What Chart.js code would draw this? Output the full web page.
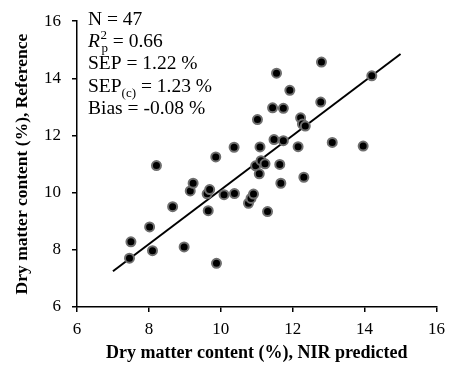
<!DOCTYPE html>
<html>
<head>
<meta charset="utf-8">
<script src="https://cdn.jsdelivr.net/npm/chart.js@4.4.1/dist/chart.umd.min.js"></script>
<style>
  html, body { margin: 0; padding: 0; background: #fff; }
  #wrap { width: 452px; height: 374px; }
</style>
</head>
<body>
<div id="wrap"><canvas id="c" width="452" height="374"></canvas></div>
<script>
// NIR predicted (x) and reference (y) dry matter content, %
const xPred = [7.46, 7.50, 8.02, 8.10, 8.21, 8.66, 8.98, 9.15, 9.23, 9.62,
               9.69, 9.65, 9.86, 9.88, 10.09, 10.38, 10.37, 10.77, 10.84, 10.91,
               10.97, 11.12, 11.23, 11.07, 11.09, 11.02, 11.30, 11.44, 11.48, 11.55,
               11.64, 11.67, 11.74, 11.74, 11.92, 12.15, 12.22, 12.27, 12.35, 12.31,
               12.78, 12.80, 13.10, 13.96, 14.20];
const yRef  = [7.71, 8.28, 8.80, 7.97, 10.95, 9.51, 8.10, 10.06, 10.33, 9.96,
               10.11, 9.37, 11.25, 7.53, 9.93, 9.97, 11.59, 9.63, 9.80, 9.95,
               10.94, 11.12, 11.01, 10.66, 11.60, 12.56, 9.34, 12.97, 11.86, 14.18,
               10.99, 10.33, 12.95, 11.82, 13.58, 11.61, 12.62, 12.40, 12.33, 10.54,
               13.17, 14.57, 11.76, 11.63, 14.09];
// regression line end points
const lineX = [7.0, 15.0];
const lineY = [7.25, 14.85];
// axis ticks
const xTicks = [6, 8, 10, 12, 14, 16];
const yTicks = [6, 8, 10, 12, 14, 16];
// statistics text
const statN = 'N = 47';
const statR2 = '0.66';
const statSEP = '1.22 %';
const statSEPc = '1.23 %';
const statBias = '-0.08 %';

const serif = "'Liberation Serif', 'Times New Roman', serif";

const statsPlugin = {
  id: 'stats',
  afterDraw(chart) {
    const ctx = chart.ctx;
    ctx.save();
    ctx.fillStyle = '#000';
    ctx.textBaseline = 'alphabetic';
    ctx.textAlign = 'left';
    const fs = 19.5, small = 13;
    const x0 = 88;
    const main = fs + 'px ' + serif;
    const sm = small + 'px ' + serif;
    // N
    ctx.font = main;
    ctx.fillText(statN, x0, 25);
    // R2p
    let y = 47;
    ctx.font = 'italic ' + main;
    ctx.fillText('R', x0, y);
    let x = x0 + ctx.measureText('R').width + 0.5;
    ctx.font = sm;
    ctx.fillText('2', x, y - 8);
    ctx.fillText('p', x + 1, y + 5);
    x += Math.max(ctx.measureText('2').width, ctx.measureText('p').width + 1);
    ctx.font = main;
    ctx.fillText(' = ' + statR2, x, y);
    // SEP
    y = 69;
    ctx.fillText('SEP = ' + statSEP, x0, y);
    // SEP(c)
    y = 92;
    ctx.fillText('SEP', x0, y);
    x = x0 + ctx.measureText('SEP').width;
    ctx.font = sm;
    ctx.fillText('(c)', x, y + 5);
    x += ctx.measureText('(c)').width;
    ctx.font = main;
    ctx.fillText(' = ' + statSEPc, x, y);
    // Bias
    y = 114;
    ctx.fillText('Bias = ' + statBias, x0, y);
    ctx.restore();
  }
};

const points = xPred.map((v, i) => ({ x: v, y: yRef[i] }));
const linePts = lineX.map((v, i) => ({ x: v, y: lineY[i] }));

new Chart(document.getElementById('c'), {
  type: 'scatter',
  data: {
    datasets: [
      {
        label: 'Samples',
        data: points,
        pointRadius: 4.5,
        pointHoverRadius: 4.5,
        backgroundColor: '#000',
        borderColor: '#6f6f6f',
        borderWidth: 2
      },
      {
        type: 'line',
        label: 'Fit',
        data: linePts,
        borderColor: '#000',
        borderWidth: 2,
        pointRadius: 0,
        fill: false
      }
    ]
  },
  options: {
    responsive: false,
    animation: false,
    events: [],
    layout: { padding: { top: 19, right: 13, left: 0, bottom: 0 } },
    plugins: {
      legend: { display: false },
      tooltip: { enabled: false }
    },
    scales: {
      x: {
        type: 'linear',
        min: 6, max: 16,
        afterBuildTicks(scale) { scale.ticks = xTicks.map(v => ({ value: v })); },
        afterFit(scale) { scale.height = 67; },
        grid: { display: true, drawOnChartArea: false, drawTicks: true, tickLength: 5, color: '#000', lineWidth: 1.5 },
        border: { display: true, color: '#000', width: 1.5 },
        ticks: { color: '#000', padding: 7, font: { family: serif, size: 17 } },
        title: {
          display: true,
          text: 'Dry matter content (%), NIR predicted',
          color: '#000',
          font: { family: serif, size: 18, weight: 'bold' },
          padding: { top: 0, bottom: 10 }
        }
      },
      y: {
        type: 'linear',
        min: 6, max: 16,
        afterBuildTicks(scale) { scale.ticks = yTicks.map(v => ({ value: v })); },
        afterFit(scale) { scale.width = 77; },
        grid: { display: true, drawOnChartArea: false, drawTicks: true, tickLength: 5, color: '#000', lineWidth: 1.5 },
        border: { display: true, color: '#000', width: 1.5 },
        ticks: { color: '#000', padding: 11, font: { family: serif, size: 17 } },
        title: {
          display: true,
          text: 'Dry matter content (%), Reference',
          color: '#000',
          font: { family: serif, size: 17.5, weight: 'bold' },
          padding: { top: 12, bottom: 0 }
        }
      }
    }
  },
  plugins: [statsPlugin]
});
</script>
</body>
</html>
